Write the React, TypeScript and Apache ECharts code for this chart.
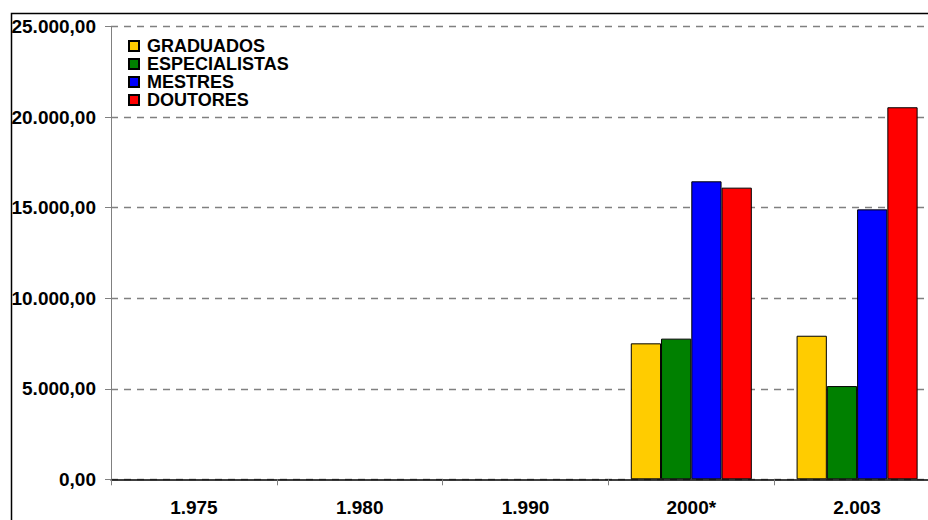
import React, { useEffect, useRef } from "react";
import * as echarts from "echarts";

const categories = ["1.975", "1.980", "1.990", "2000*", "2.003"];
const graduados = [null, null, null, 7510, 7930];
const especialistas = [null, null, null, 7770, 5150];
const mestres = [null, null, null, 16460, 14910];
const doutores = [null, null, null, 16110, 20550];
const seriesNames = ["GRADUADOS", "ESPECIALISTAS", "MESTRES", "DOUTORES"];
const seriesColors = ["#FFCC00", "#008000", "#0000FF", "#FF0000"];
const yTicks = [0, 5000, 10000, 15000, 20000, 25000];

const FONT = "'Liberation Sans', Arial, sans-serif";

function fmt(v: number): string {
  const s = Math.round(v).toString().replace(/\B(?=(\d{3})+(?!\d))/g, ".");
  return s + ",00";
}

export default function App() {
  const ref = useRef<HTMLDivElement>(null);
  useEffect(() => {
    if (!ref.current) return;
    const chart = echarts.init(ref.current, null, { renderer: "svg" });
    const data = [graduados, especialistas, mestres, doutores];
    chart.setOption({
      animation: false,
      backgroundColor: "#ffffff",
      textStyle: { fontFamily: FONT },
      grid: { left: 111, top: 26.7, bottom: 40.7, right: 0, containLabel: false },
      legend: {
        orient: "vertical",
        left: 123,
        top: 32,
        itemWidth: 10,
        itemHeight: 10,
        itemGap: 0,
        icon: "rect",
        data: seriesNames,
        textStyle: {
          fontFamily: FONT,
          fontWeight: "bold",
          fontSize: 18,
          lineHeight: 18,
          color: "#000",
          padding: [0, 0, 0, 3],
        },
      },
      xAxis: {
        type: "category",
        data: categories,
        axisLine: { lineStyle: { color: "#000", width: 1.5 } },
        axisTick: { show: true, length: 6, lineStyle: { color: "#808080" }, interval: 0 },
        axisLabel: {
          interval: 0,
          margin: 19,
          fontFamily: FONT,
          fontWeight: "bold",
          fontSize: 19,
          color: "#000",
        },
        splitLine: { show: false },
      },
      yAxis: {
        type: "value",
        min: yTicks[0],
        max: yTicks[yTicks.length - 1],
        interval: 5000,
        axisLine: { show: true, lineStyle: { color: "#808080", width: 1 } },
        axisTick: { show: true, length: 6, lineStyle: { color: "#808080" } },
        axisLabel: {
          margin: 15,
          fontFamily: FONT,
          fontWeight: "bold",
          fontSize: 19,
          color: "#000",
          formatter: (v: number) => fmt(v),
        },
        splitLine: {
          show: true,
          lineStyle: { color: "#808080", type: [7, 6], width: 1.3 },
        },
      },
      series: seriesNames.map((name, i) => ({
        name,
        type: "bar",
        data: data[i],
        barGap: "0%",
        barCategoryGap: "27%",
        itemStyle: { color: seriesColors[i], borderColor: "#000", borderWidth: 1 },
      })),
      graphic: [
        {
          type: "rect",
          left: 9,
          top: 11,
          shape: { x: 0, y: 0, width: 1000, height: 600 },
          style: { fill: "none", stroke: "#000", lineWidth: 1.5 },
          z: 100,
        },
      ],
    });
    return () => chart.dispose();
  }, []);
  return (
    <div style={{ position: "fixed", left: 0, top: 0, width: 928, height: 520, overflow: "hidden", background: "#fff" }}>
      <div ref={ref} style={{ width: 940, height: 520 }} />
    </div>
  );
}
